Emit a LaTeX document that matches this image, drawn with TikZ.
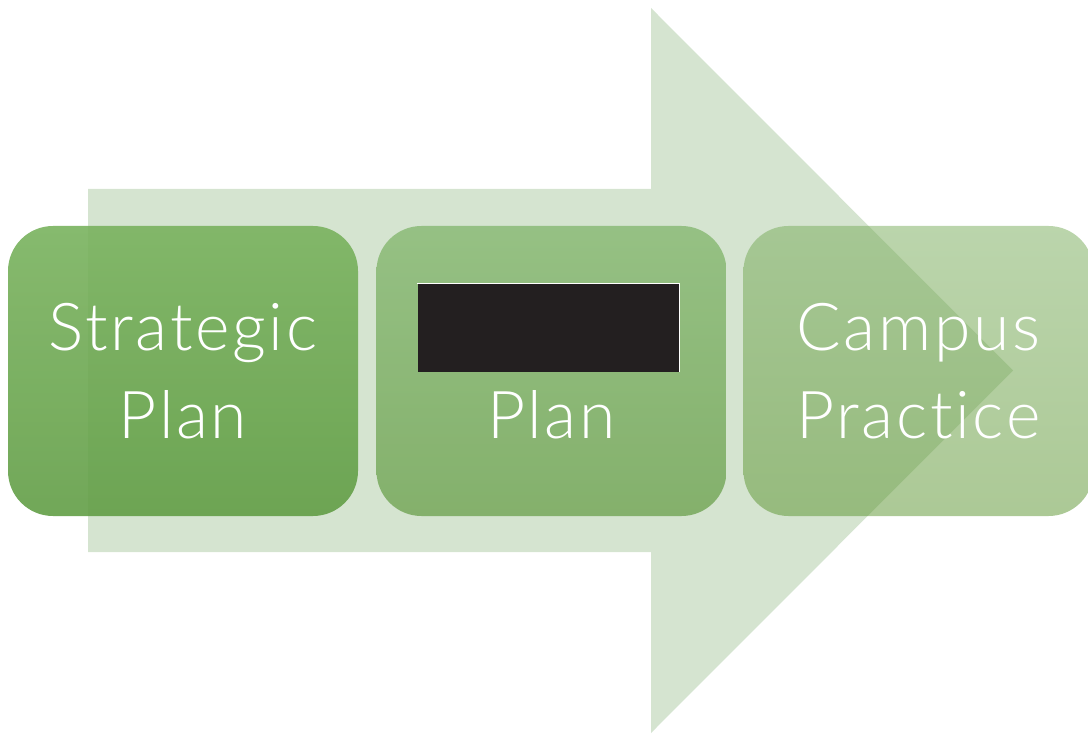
\documentclass[tikz,border=0pt]{standalone}
\usepackage{fontspec}
\IfFontExistsTF{Lato Light}{\setmainfont{Lato Light}[LetterSpace=4,Ligatures=CommonOff]}{\setmainfont{Lato}[LetterSpace=4,Ligatures=CommonOff]}
\definecolor{arrowgreen}{RGB}{213,228,208}
\definecolor{boxAtop}{RGB}{121,178,94}
\definecolor{boxAbot}{RGB}{98,158,70}
\definecolor{boxBtop}{RGB}{134,184,113}
\definecolor{boxBbot}{RGB}{112,164,83}
\definecolor{boxCtop}{RGB}{119,171,89}
\definecolor{boxCbot}{RGB}{89,147,45}
\definecolor{redact}{RGB}{35,31,32}
\tikzset{
  stagebox/.style={rounded corners=45pt, minimum width=350pt, minimum height=290pt,
    inner sep=0pt, align=center, text=white, text opacity=1,
    font=\fontsize{66}{88}\selectfont},
  redactbox/.style={fill=redact, minimum width=262pt, minimum height=88pt, inner sep=0pt}
}
\begin{document}
\begin{tikzpicture}[x=1pt,y=-1pt]
\useasboundingbox (0,0) rectangle (1088,735);
\clip (0,0) rectangle (1088,735);
% big background arrow
\fill[arrowgreen] (88,189) -- (651,189) -- (651,8) -- (1013,370.5) -- (651,733) -- (651,552) -- (88,552) -- cycle;
% stages
\node[stagebox, top color=boxAtop, bottom color=boxAbot, fill opacity=0.9] (s1) at (183,371) {Strategic\\Plan};
\node[stagebox, top color=boxBtop, bottom color=boxBbot, fill opacity=0.8] (s2) at (551.5,371) {\phantom{Strategic}\\Plan};
\node[stagebox, top color=boxCtop, bottom color=boxCbot, fill opacity=0.5] (s3) at (918.5,371) {Campus\\Practice};
% redaction
\node[redactbox] (r) at (548.5,328) {};
\draw[white, line width=0.8pt] (r.north west) -- (r.north east) -- (r.south east);
\end{tikzpicture}
\end{document}
